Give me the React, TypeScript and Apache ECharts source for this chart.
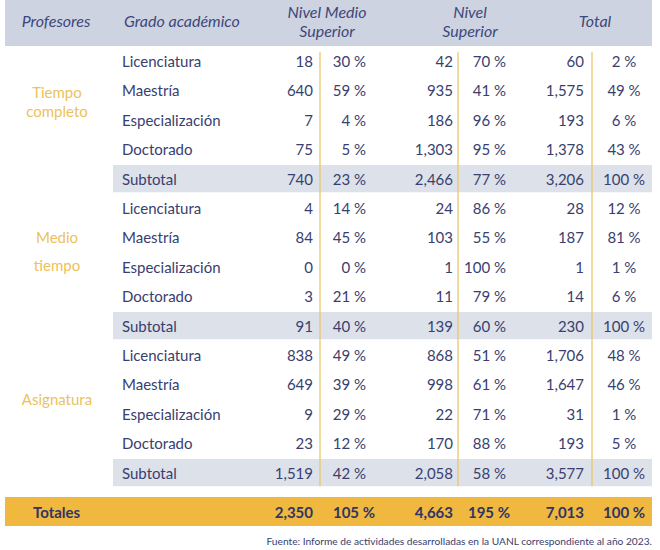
import React, { useEffect, useRef } from "react";
import * as echarts from "echarts";

// ---------- data ----------
const profesores = ["Tiempo completo", "Medio tiempo", "Asignatura"];
const grados = ["Licenciatura", "Maestría", "Especialización", "Doctorado", "Subtotal"];
const headers = ["Profesores", "Grado académico", "Nivel Medio\nSuperior", "Nivel\nSuperior", "Total"];

const nmsCount = [18, 640, 7, 75, 740, 4, 84, 0, 3, 91, 838, 649, 9, 23, 1519];
const nmsPct = [30, 59, 4, 5, 23, 14, 45, 0, 21, 40, 49, 39, 29, 12, 42];
const nsCount = [42, 935, 186, 1303, 2466, 24, 103, 1, 11, 139, 868, 998, 22, 170, 2058];
const nsPct = [70, 41, 96, 95, 77, 86, 55, 100, 79, 60, 51, 61, 71, 88, 58];
const totCount = [60, 1575, 193, 1378, 3206, 28, 187, 1, 14, 230, 1706, 1647, 31, 193, 3577];
const totPct = [2, 49, 6, 43, 100, 12, 81, 1, 6, 100, 48, 46, 1, 5, 100];

const totalesLabel = "Totales";
const totalesValues = [2350, 105, 4663, 195, 7013, 100];

const fuente = "Fuente: Informe de actividades desarrolladas en la UANL correspondiente al año 2023.";

// ---------- style / layout ----------
const FONT = "Lato";
const TEXT = "#39406f";
const HEAD_TEXT = "#3e4879";
const HEAD_BG = "#cdd3e1";
const SUB_BG = "#dde1ea";
const TOT_BG = "#f0b83e";
const GOLD_TEXT = "#ecc25b";
const LINE = "#ecc871";

const X = {
  prof: 57, grado: 122,
  nmsN: 313, nmsP: 366, nmsLine: 320,
  nsN: 453, nsP: 506, nsLine: 458,
  totN: 584, totP: 624, totLine: 592,
  bandL: 113, bandR: 652, fullL: 5,
};
const groupLineHeights = [19, 28, 0];
const groupOffsets = [-4, -1, 0];

const rowKeys: string[] = [];
profesores.forEach((p) => grados.forEach((g) => rowKeys.push(p + " · " + g)));

const fmtN = (v: number) => v.toLocaleString("en-US");
const fmtP = (v: number) => v + " %";

export default function App() {
  const ref = useRef<HTMLDivElement>(null);
  useEffect(() => {
    document.body.style.margin = "0";
    if (!ref.current) return;
    const chart = echarts.init(ref.current, null, { renderer: "svg" });

    const txt = (x: number, y: number, s: string, align: string, opts: any = {}) => ({
      type: "text",
      x,
      y,
      style: {
        text: s,
        align,
        verticalAlign: "middle",
        fontFamily: FONT,
        fontSize: opts.fontSize ?? 15,
        fontWeight: opts.fontWeight ?? "normal",
        fontStyle: opts.fontStyle ?? "normal",
        fill: opts.fill ?? TEXT,
        lineHeight: opts.lineHeight,
      },
    });

    const renderBody = (params: any, api: any) => {
      const i = api.value(1) as number;
      const cx = (v: number) => api.coord([v, i])[0];
      const y = api.coord([0, i])[1];
      const bh = api.size([0, 1])[1];
      const g = Math.floor(i / grados.length);
      const r = i % grados.length;
      const children: any[] = [];
      if (r === grados.length - 1) {
        children.push({
          type: "rect",
          shape: { x: cx(X.bandL), y: y - bh / 2 + 1, width: cx(X.bandR) - cx(X.bandL), height: bh - 2 },
          style: { fill: SUB_BG },
        });
      }
      const y0 = i === 0 ? y - bh / 2 + 6 : y - bh / 2;
      const y1 = i === rowKeys.length - 1 ? y + bh / 2 - 1 : y + bh / 2;
      [X.nmsLine, X.nsLine, X.totLine].forEach((lx) =>
        children.push({
          type: "line",
          shape: { x1: cx(lx), y1: y0, x2: cx(lx), y2: y1 },
          style: { stroke: LINE, lineWidth: 1.5, opacity: 0.9 },
        })
      );
      children.push(txt(cx(X.grado), y, grados[r], "left"));
      children.push(txt(cx(X.nmsN), y, fmtN(nmsCount[i]), "right"));
      children.push(txt(cx(X.nmsP), y, fmtP(nmsPct[i]), "right"));
      children.push(txt(cx(X.nsN), y, fmtN(nsCount[i]), "right"));
      children.push(txt(cx(X.nsP), y, fmtP(nsPct[i]), "right"));
      children.push(txt(cx(X.totN), y, fmtN(totCount[i]), "right"));
      children.push(txt(cx(X.totP), y, fmtP(totPct[i]), "center"));
      if (r === 1) {
        children.push(
          txt(cx(X.prof), y + bh / 2 + groupOffsets[g], profesores[g].replace(" ", "\n"), "center", {
            fill: GOLD_TEXT,
            lineHeight: groupLineHeights[g] || 19,
          })
        );
      }
      return { type: "group", children };
    };

    const renderTot = (params: any, api: any) => {
      const cx = (v: number) => api.coord([v, 0])[0];
      const y = api.coord([0, 0])[1];
      const bh = api.size([0, 1])[1];
      const b = { fontWeight: "bold", fill: "#2f3566" };
      return {
        type: "group",
        children: [
          {
            type: "rect",
            shape: { x: cx(X.fullL), y: y - bh / 2, width: cx(X.bandR) - cx(X.fullL), height: bh },
            style: { fill: TOT_BG },
          },
          txt(cx(33), y, totalesLabel, "left", b),
          txt(cx(X.nmsN), y, fmtN(totalesValues[0]), "right", b),
          txt(cx(X.nmsP + 9), y, fmtP(totalesValues[1]), "right", b),
          txt(cx(X.nsN), y, fmtN(totalesValues[2]), "right", b),
          txt(cx(X.nsP + 4), y, fmtP(totalesValues[3]), "right", b),
          txt(cx(X.totN), y, fmtN(totalesValues[4]), "right", b),
          txt(cx(X.totP), y, fmtP(totalesValues[5]), "center", b),
        ],
      };
    };

    const hs = { fontStyle: "italic", fill: HEAD_TEXT, fontSize: 16, lineHeight: 19 };
    chart.setOption({
      animation: false,
      grid: [
        { left: 0, right: 0, top: 46.3, height: 441, containLabel: false },
        { left: 0, right: 0, top: 497, height: 29, containLabel: false },
      ],
      xAxis: [
        { type: "value", min: 0, max: 660, show: false, gridIndex: 0 },
        { type: "value", min: 0, max: 660, show: false, gridIndex: 1 },
      ],
      yAxis: [
        { type: "category", data: rowKeys, inverse: true, show: false, gridIndex: 0 },
        { type: "category", data: [totalesLabel], show: false, gridIndex: 1 },
      ],
      graphic: [
        { type: "rect", shape: { x: X.fullL, y: 0, width: X.bandR - X.fullL, height: 46 }, style: { fill: HEAD_BG }, z: 0 },
        { ...txt(56, 20, headers[0], "center", hs) },
        { ...txt(124, 20, headers[1], "left", hs) },
        { ...txt(327, 21, headers[2], "center", hs) },
        { ...txt(470, 21, headers[3], "center", hs) },
        { ...txt(595, 20, headers[4], "center", hs) },
        { ...txt(652, 541, fuente, "right", { fontSize: 10.2, fill: TEXT }) },
      ],
      series: [
        {
          type: "custom",
          xAxisIndex: 0,
          yAxisIndex: 0,
          renderItem: renderBody,
          data: rowKeys.map((_, i) => [0, i]),
          encode: { x: 0, y: 1 },
          clip: false,
        },
        {
          type: "custom",
          xAxisIndex: 1,
          yAxisIndex: 1,
          renderItem: renderTot,
          data: [[0, 0]],
          encode: { x: 0, y: 1 },
          clip: false,
        },
      ],
    });
    return () => chart.dispose();
  }, []);
  return <div ref={ref} style={{ width: 660, height: 550 }} />;
}
